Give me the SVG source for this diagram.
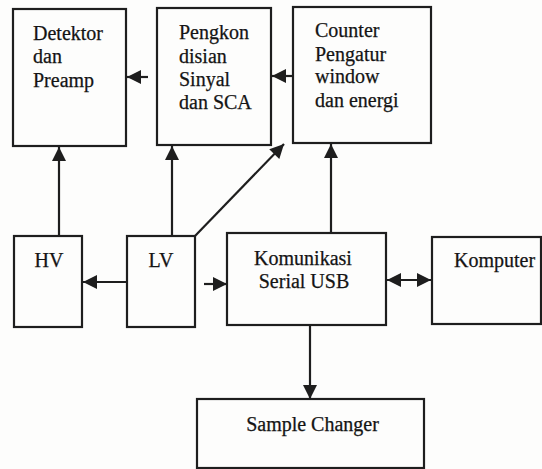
<svg xmlns="http://www.w3.org/2000/svg" width="542" height="469" viewBox="0 0 542 469">
  <style>
    .box { fill: none; stroke: #1e1e1e; stroke-width: 2.2; }
    .lbl { font-family: "Liberation Serif", "Times New Roman", serif; font-size: 20px; fill: #141414; stroke: #141414; stroke-width: 0.25; }
    .mid { text-anchor: middle; }
    .wire { fill: none; stroke: #1e1e1e; stroke-width: 2.2; }
  </style>
  <defs>
    <marker id="head" markerUnits="userSpaceOnUse" viewBox="0 0 14 14" markerWidth="14" markerHeight="14" refX="14" refY="7" orient="auto-start-reverse" overflow="visible">
      <path d="M0,0 L14,7 L0,14 z" fill="#1e1e1e"/>
    </marker>
  </defs>
  <rect width="542" height="469" fill="#fdfdfc"/>

  <g id="detektor">
    <rect class="box" x="13" y="9" width="113" height="137"/>
    <text class="lbl" x="33" y="40">Detektor</text>
    <text class="lbl" x="33" y="63">dan</text>
    <text class="lbl" x="33" y="87">Preamp</text>
  </g>

  <g id="pengkondisian">
    <rect class="box" x="157" y="8" width="114" height="137"/>
    <text class="lbl" x="179" y="39">Pengkon</text>
    <text class="lbl" x="179" y="63">disian</text>
    <text class="lbl" x="179" y="86">Sinyal</text>
    <text class="lbl" x="179" y="109">dan SCA</text>
  </g>

  <g id="counter">
    <rect class="box" x="293" y="7" width="138" height="136"/>
    <text class="lbl" x="315" y="37">Counter</text>
    <text class="lbl" x="315" y="61">Pengatur</text>
    <text class="lbl" x="315" y="83">window</text>
    <text class="lbl" x="315" y="107">dan energi</text>
  </g>

  <g id="hv">
    <rect class="box" x="14" y="236" width="68" height="91"/>
    <text class="lbl mid" x="49" y="267">HV</text>
  </g>

  <g id="lv">
    <rect class="box" x="127" y="236" width="68" height="91"/>
    <text class="lbl mid" x="161" y="267">LV</text>
  </g>

  <g id="komunikasi">
    <rect class="box" x="227" y="233" width="159" height="92"/>
    <text class="lbl mid" x="303" y="265">Komunikasi</text>
    <text class="lbl mid" x="304" y="288">Serial USB</text>
  </g>

  <g id="komputer">
    <rect class="box" x="432" y="237" width="109" height="87"/>
    <text class="lbl" x="454" y="267">Komputer</text>
  </g>

  <g id="sample-changer">
    <rect class="box" x="197" y="399" width="227" height="69"/>
    <text class="lbl mid" x="312.5" y="431">Sample Changer</text>
  </g>

  <g id="connectors">
    <line class="wire" x1="148" y1="77" x2="127" y2="77" marker-end="url(#head)"/>
    <line class="wire" x1="293" y1="76" x2="272" y2="76" marker-end="url(#head)"/>
    <line class="wire" x1="59" y1="236" x2="59" y2="147" marker-end="url(#head)"/>
    <line class="wire" x1="172" y1="236" x2="172" y2="146" marker-end="url(#head)"/>
    <line class="wire" x1="195" y1="236" x2="284" y2="144" marker-end="url(#head)"/>
    <line class="wire" x1="331" y1="233" x2="331" y2="144" marker-end="url(#head)"/>
    <line class="wire" x1="127" y1="282" x2="83" y2="282" marker-end="url(#head)"/>
    <line class="wire" x1="204" y1="284" x2="227" y2="284" marker-end="url(#head)"/>
    <line class="wire" x1="387" y1="280" x2="431" y2="280" marker-start="url(#head)" marker-end="url(#head)"/>
    <line class="wire" x1="310" y1="325" x2="310" y2="399" marker-end="url(#head)"/>
  </g>
</svg>
